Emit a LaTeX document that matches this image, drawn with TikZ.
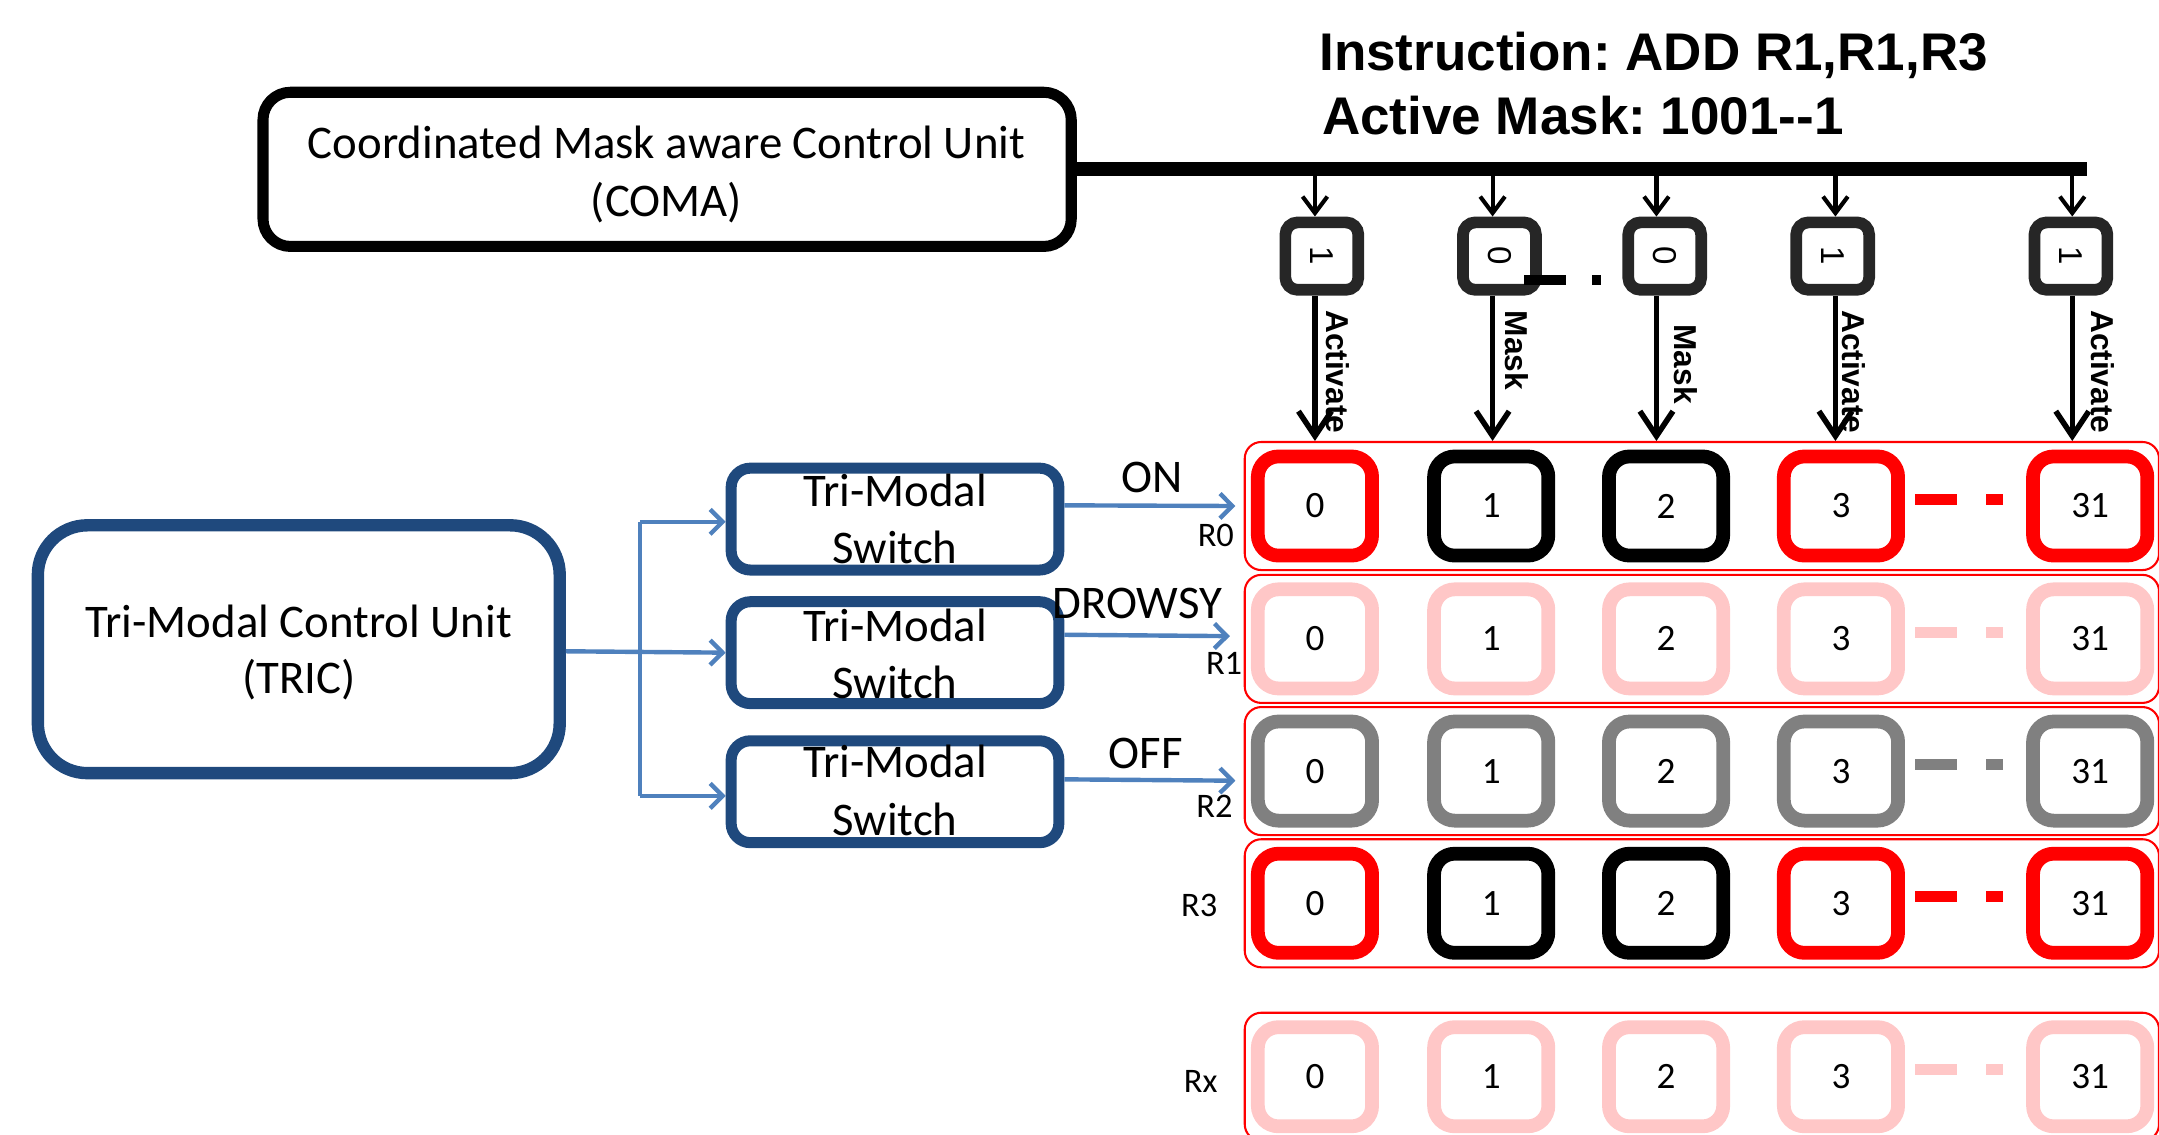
\documentclass[tikz,border=0pt]{standalone}
\usepackage{fontspec}
\usepackage{graphicx}
\setmainfont{Carlito}
\newfontfamily\arial{Liberation Sans}
\usetikzlibrary{arrows.meta}
\definecolor{dkblue}{HTML}{1F497D}
\definecolor{ltblue}{HTML}{4F81BD}
\definecolor{mgray}{HTML}{262626}
\definecolor{pinkc}{HTML}{FFC7C7}
\definecolor{grayc}{HTML}{808080}
\definecolor{redc}{HTML}{FF0000}
\frenchspacing
\begin{document}
\begin{tikzpicture}[x=1pt,y=-1pt,
  comabox/.style={draw=black,line width=8pt,rounded corners=20pt,minimum width=587pt,minimum height=112pt,inner sep=0pt,fill=white},
  tricbox/.style={draw=dkblue,line width=9pt,rounded corners=36pt,minimum width=379pt,minimum height=180pt,inner sep=0pt},
  swbox/.style={draw=dkblue,line width=8pt,rounded corners=14pt,minimum width=238pt,minimum height=74pt,inner sep=0pt},
  txt/.style={font=\fontsize{34}{41}\selectfont,inner sep=0pt,anchor=base},
  ttl/.style={font=\arial\bfseries\fontsize{38.5}{40}\selectfont,inner sep=0pt,anchor=base west},
  maskbox/.style={draw=mgray,line width=8.5pt,rounded corners=9pt,minimum width=53pt,minimum height=49pt,fill=white,inner sep=0pt,font=\arial\fontsize{24}{24}\selectfont},
  vlbl/.style={font=\arial\bfseries\fontsize{23}{23}\selectfont,rotate=-90,inner sep=0pt},
  cell/.style={line width=10pt,rounded corners=15pt,minimum width=83pt,minimum height=72pt,inner sep=0pt,fill=white,font=\fontsize{27}{27}\selectfont},
  grp/.style={draw=redc,line width=1.5pt,rounded corners=12pt,minimum width=664pt,minimum height=93pt,inner sep=0pt},
  rlab/.style={font=\fontsize{25}{25}\selectfont,inner sep=0pt,anchor=base},
  toparrow/.style={draw=black,line width=3pt,-{Straight Barb[length=12pt,width=18pt]}},
  lowarrow/.style={draw=black,line width=4pt,-{Straight Barb[length=18pt,width=24pt]}},
  blarrow/.style={draw=ltblue,line width=3.2pt,-{Straight Barb[length=9pt,width=18pt]}},
  blline/.style={draw=ltblue,line width=3.2pt}
]
\useasboundingbox (0,0) rectangle (1568,824);
\clip (0,0) rectangle (1568,824);

% title
\node[ttl] (t1) at (958,51.3) {Instruction: ADD R1,R1,R3};
\node[ttl] (t2) at (960,98) {Active Mask: 1001--1};

% COMA
\node[comabox] (coma) at (484.5,123) {};
\node[txt] (comaA) at (484,115) {Coordinated Mask aware Control Unit};
\node[txt] (comaB) at (484,157) {(COMA)};
\coordinate (bus) at (1516,123);
\draw[line width=10pt] (coma.east) -- (bus);

% mask boxes
\node[maskbox] (m1) at (960,186) {\rotatebox{-90}{1}};
\node[maskbox] (m2) at (1089,186) {\rotatebox{-90}{0}};
\node[maskbox] (m3) at (1209,186) {\rotatebox{-90}{0}};
\node[maskbox] (m4) at (1331,186) {\rotatebox{-90}{1}};
\node[maskbox] (m5) at (1504,186) {\rotatebox{-90}{1}};
\fill (1107,200) rectangle (1137,207);
\fill (1156,200) rectangle (1163,207);

\coordinate (a1) at (955,128);
\coordinate (a2) at (1084,128);
\coordinate (a3) at (1203,128);
\coordinate (a4) at (1333,128);
\coordinate (a5) at (1505,128);
\foreach \i in {1,...,5}{
  \draw[toparrow] (a\i) -- (a\i |- m\i.north);
}

% register rows
\foreach \r/\y/\a/\b/\lx/\ly in {0/367.5/redc/black/883/397, 1/464/pinkc/pinkc/889/489.5, 2/560/grayc/grayc/882/593.5, 3/656/redc/black/871/665.5, x/782/pinkc/pinkc/872/793.5}{
  \node[grp] (g\r) at (1236,\y) {};
  \node[cell,draw=\a] (c\r-0) at (955,\y) {0};
  \node[cell,draw=\b] (c\r-1) at (1083,\y) {1};
  \node[cell,draw=\b] (c\r-2) at (1210,\y) {2};
  \node[cell,draw=\a] (c\r-3) at (1337,\y) {3};
  \node[cell,draw=\a] (c\r-31) at (1518,\y) {31};
  \fill[\a] (1391,\y-9) rectangle (1421,\y-1);
  \fill[\a] (1442,\y-9) rectangle (1455,\y-1);
  \node[rlab] (l\r) at (\lx,\ly) {R\r};
}

\foreach \i in {1,...,5}{
  \draw[lowarrow] (a\i |- m\i.south) -- (a\i |- g0.north);
}
\node[vlbl] (v1) at (971.5,270) {Activate};
\node[vlbl] (v2) at (1101.5,254.5) {Mask};
\node[vlbl] (v3) at (1224,264.5) {Mask};
\node[vlbl] (v4) at (1346.5,270) {Activate};
\node[vlbl] (v5) at (1527.5,270) {Activate};

% left side
\node[tricbox] (tric) at (217,471.5) {};
\node[txt] (tricA) at (217,463) {Tri-Modal Control Unit};
\node[txt] (tricB) at (217,504) {(TRIC)};

\node[swbox] (sw1) at (650,377) {};
\node[swbox] (sw2) at (650,474) {};
\node[swbox] (sw3) at (650,575) {};
\node[txt] (s1a) at (650,368) {Tri-Modal};
\node[txt] (s1b) at (650,409) {Switch};
\node[txt] (s2a) at (650,466) {Tri-Modal};
\node[txt] (s2b) at (650,507) {Switch};
\node[txt] (s3a) at (650,565) {Tri-Modal};
\node[txt] (s3b) at (650,607) {Switch};

\coordinate (j1) at (465,379);
\coordinate (j3) at (465,578);
\draw[blarrow] ([yshift=-1.5pt]tric.east) -- (sw2.west);
\draw[blline] (j1) -- (j3);
\draw[blarrow] (j1) -- (j1 -| sw1.west);
\draw[blarrow] (j3) -- (j3 -| sw3.west);

\draw[blarrow] ([yshift=10pt]sw1.east) -- ([xshift=-6pt]g0.west);
\draw[blarrow] ([yshift=13pt]sw2.east) -- ([xshift=-10pt,yshift=2pt]g1.west);
\draw[blarrow] ([yshift=9pt]sw3.east) -- ([xshift=-6pt,yshift=-7pt]g2.west);

\node[txt] (on) at (837,357.5) {ON};
\node[txt] (drowsy) at (826,449) {DROWSY};
\node[txt] (off) at (832,558) {OFF};
\end{tikzpicture}
\end{document}
